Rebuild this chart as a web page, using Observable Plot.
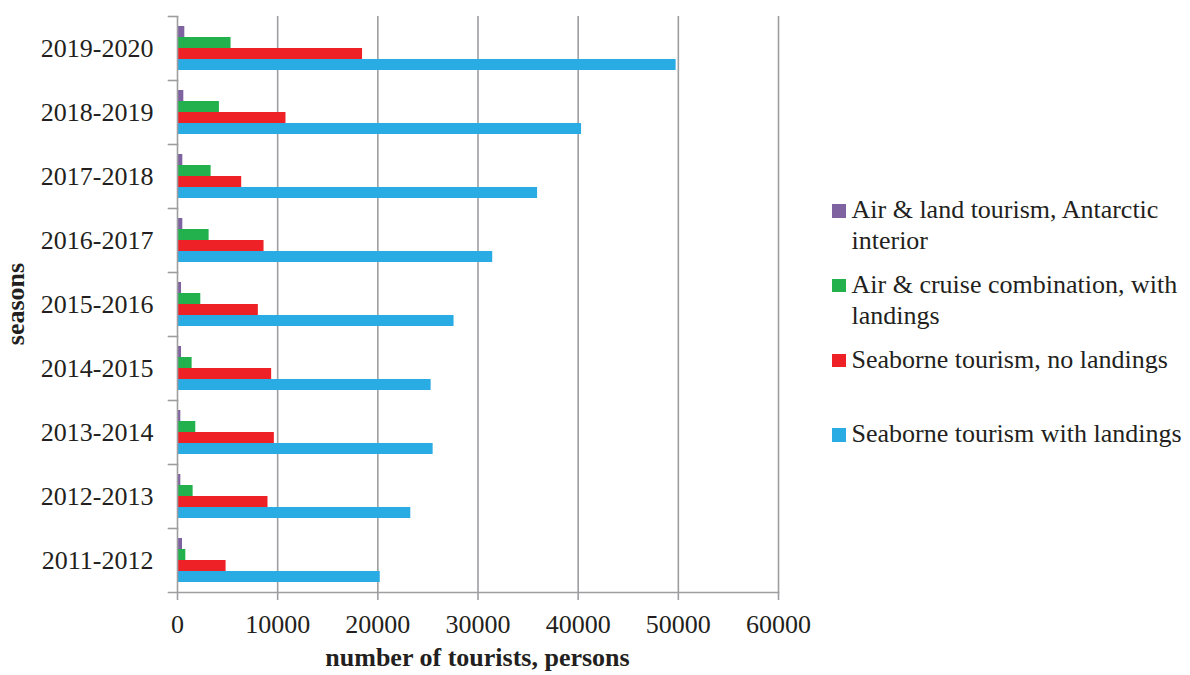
<!DOCTYPE html>
<html>
<head>
<meta charset="utf-8">
<script src="https://cdn.jsdelivr.net/npm/d3@7"></script>
<script src="https://cdn.jsdelivr.net/npm/@observablehq/plot@0.6"></script>
<style>
  html, body { margin: 0; padding: 0; background: #fff; }
  #chart { position: relative; width: 1190px; height: 675px; background: #fff; overflow: hidden;
           font-family: "Liberation Serif", "Times New Roman", serif; color: #231f20; }
  #chart svg { position: absolute; left: 0; top: 0; }
  .axis-title { position: absolute; font-size: 26px; font-weight: bold; line-height: 26px; white-space: nowrap; }
  #legend { position: absolute; left: 832px; top: 194px; width: 358px; font-size: 26px; line-height: 31px; }
  .item { position: relative; height: 62px; margin-bottom: 12.8px; padding-left: 19.5px; }
  .swatch { position: absolute; left: 0; top: 10px; width: 13.7px; height: 13.7px; }
</style>
</head>
<body>
<div id="chart"></div>
<script>
// Antarctic tourism by season and type of activity (number of tourists)
const seasons = ["2019-2020", "2018-2019", "2017-2018", "2016-2017", "2015-2016",
                 "2014-2015", "2013-2014", "2012-2013", "2011-2012"];
const seriesNames = [
  "Air & land tourism, Antarctic interior",
  "Air & cruise combination, with landings",
  "Seaborne tourism, no landings",
  "Seaborne tourism with landings"
];
const airLand    = [730, 630, 530, 530, 400, 400, 330, 330, 500];
const airCruise  = [5345, 4185, 3355, 3155, 2325, 1460, 1825, 1560, 830];
const seaNoLand  = [18475, 10830, 6410, 8640, 8070, 9400, 9670, 9035, 4850];
const seaLand    = [49780, 40340, 35950, 31470, 27610, 25320, 25520, 23290, 20240];
const xTicks = [0, 10000, 20000, 30000, 40000, 50000, 60000];
const colors = ["#7f63a1", "#22b14c", "#ee2226", "#29abe3"];

const seriesValues = [airLand, airCruise, seaNoLand, seaLand];
const rows = seasons.flatMap((season, i) =>
  seriesNames.map((series, j) => ({season, series, value: seriesValues[j][i]})));

const width = 830, height = 675;
const marginTop = 15, marginRight = 52, marginBottom = 82, marginLeft = 177;
const plotW = width - marginLeft - marginRight;
const grid = "#9e9ea2";
const ink = "#231f20";

const plot = Plot.plot({
  width, height, marginTop, marginRight, marginBottom, marginLeft,
  style: {fontFamily: "'Liberation Serif', 'Times New Roman', serif", fontSize: "26px", color: ink, background: "white"},
  x: {domain: [0, 60000]},
  fy: {domain: seasons, padding: 0},
  y: {domain: seriesNames, paddingInner: 0, paddingOuter: 0.755, axis: null},
  color: {domain: seriesNames, range: colors},
  marks: [
    // vertical gridlines behind the bars
    Plot.ruleX(xTicks.filter(d => d > 0), {stroke: grid, strokeWidth: 1.6}),
    Plot.barX(rows, {x: "value", y: "series", fy: "season", fill: "series"}),
    // category axis line and boundary ticks between seasons
    Plot.ruleX([0], {stroke: grid, strokeWidth: 1.6}),
    Plot.frame({anchor: "top", stroke: grid, strokeWidth: 1.6, insetLeft: -9, insetRight: plotW}),
    Plot.frame({anchor: "bottom", facetAnchor: "bottom", stroke: grid, strokeWidth: 1.6, insetLeft: -9}),
    Plot.axisX({anchor: "bottom", ticks: xTicks, tickFormat: d => String(d), tickSize: 8, tickPadding: 14,
                stroke: grid, strokeWidth: 1.6, fill: ink, label: null}),
    Plot.axisFy({anchor: "left", tickSize: 0, tickPadding: 24, fill: ink, label: null})
  ]
});

const chart = document.getElementById("chart");
chart.appendChild(plot);

// axis titles
const xTitle = document.createElement("div");
xTitle.className = "axis-title";
xTitle.textContent = "number of tourists, persons";
xTitle.style.left = (marginLeft + plotW / 2) + "px";
xTitle.style.top = "645px";
xTitle.style.transform = "translateX(-50%)";
chart.appendChild(xTitle);

const yTitle = document.createElement("div");
yTitle.className = "axis-title";
yTitle.textContent = "seasons";
yTitle.style.left = "16px";
yTitle.style.top = ((marginTop + height - marginBottom) / 2) + "px";
yTitle.style.transform = "translate(-50%, -50%) rotate(-90deg)";
chart.appendChild(yTitle);

// legend
const legend = document.createElement("div");
legend.id = "legend";
seriesNames.forEach((name, i) => {
  const item = document.createElement("div");
  item.className = "item";
  const sw = document.createElement("span");
  sw.className = "swatch";
  sw.style.background = colors[i];
  item.appendChild(sw);
  item.appendChild(document.createTextNode(name));
  legend.appendChild(item);
});
chart.appendChild(legend);
</script>
</body>
</html>
